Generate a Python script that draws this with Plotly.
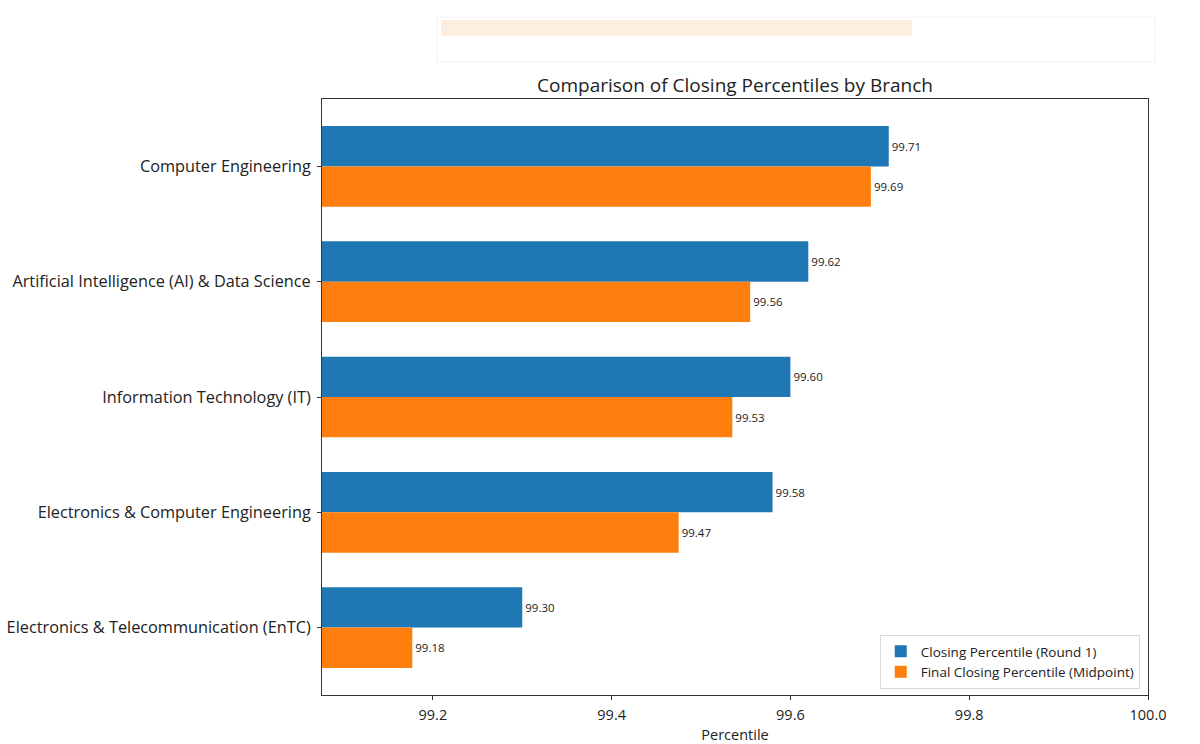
import plotly.graph_objects as go

branches = [
    "Computer Engineering",
    "Artificial Intelligence (AI) & Data Science",
    "Information Technology (IT)",
    "Electronics & Computer Engineering",
    "Electronics & Telecommunication (EnTC)",
]
round1 = [99.71, 99.62, 99.60, 99.58, 99.30]
final_mid = [99.69, 99.555, 99.535, 99.475, 99.177]
round1_labels = ["99.71", "99.62", "99.60", "99.58", "99.30"]
final_labels = ["99.69", "99.56", "99.53", "99.47", "99.18"]
x_ticks = [99.2, 99.4, 99.6, 99.8, 100.0]
x_tick_text = ["99.2", "99.4", "99.6", "99.8", "100.0"]

FONT = "Open Sans"
BLUE = "#1f77b4"
ORANGE = "#ff7f0e"

fig = go.Figure()
fig.add_trace(go.Bar(
    y=branches, x=round1, orientation="h", name="Closing Percentile (Round 1)",
    marker=dict(color=BLUE, line=dict(width=0)),
    text=round1_labels, textposition="outside", constraintext="none",
    textfont=dict(family=FONT, size=11.5, color="#222"), cliponaxis=False,
))
fig.add_trace(go.Bar(
    y=branches, x=final_mid, orientation="h", name="Final Closing Percentile (Midpoint)",
    marker=dict(color=ORANGE, line=dict(width=0)),
    text=final_labels, textposition="outside", constraintext="none",
    textfont=dict(family=FONT, size=11.5, color="#222"), cliponaxis=False,
))

fig.update_layout(
    width=1200, height=744,
    paper_bgcolor="white", plot_bgcolor="white",
    margin=dict(l=322, r=52, t=99, b=49, autoexpand=False),
    barmode="group", bargap=0.3, bargroupgap=0,
    font=dict(family=FONT, color="#222"),
    title=dict(text="Comparison of Closing Percentiles by Branch", x=0.5, xanchor="center",
               xref="paper", y=1 - 85 / 744, yanchor="middle",
               font=dict(family=FONT, size=19, color="#222")),
    showlegend=True,
    legend=dict(x=0.99, y=0.01, xanchor="right", yanchor="bottom",
                bgcolor="rgba(255,255,255,0.9)", bordercolor="#d8d8d8", borderwidth=1,
                font=dict(family=FONT, size=13.5, color="#222"), traceorder="normal",
                itemwidth=30, tracegroupgap=0),
    shapes=[
        dict(type="rect", xref="paper", yref="paper", layer="below",
             x0=(437 - 322) / 826, x1=(1155 - 322) / 826,
             y0=1 + (99 - 62) / 596, y1=1 + (99 - 17) / 596,
             line=dict(color="#f3f3f3", width=1), fillcolor="rgba(0,0,0,0)"),
        dict(type="rect", xref="paper", yref="paper", layer="below",
             x0=(441 - 322) / 826, x1=(912 - 322) / 826,
             y0=1 + (99 - 36) / 596, y1=1 + (99 - 20) / 596,
             line=dict(width=0), fillcolor="#fdeee2"),
    ],
)
fig.update_xaxes(
    range=[99.076, 100.0], tickvals=x_ticks, ticktext=x_tick_text,
    showgrid=False, zeroline=False, automargin=False,
    showline=True, linecolor="#333", linewidth=1, mirror=True,
    ticks="outside", ticklen=4, tickcolor="#333", ticklabelstandoff=3,
    tickfont=dict(family=FONT, size=14.5, color="#222"),
    title=dict(text="Percentile", font=dict(family=FONT, size=14.5, color="#222"), standoff=6),
)
fig.update_yaxes(
    autorange=False, range=[4.585, -0.585], automargin=False,
    showgrid=False, zeroline=False,
    showline=True, linecolor="#333", linewidth=1, mirror=True,
    ticks="outside", ticklen=4, tickcolor="#333", ticklabelstandoff=3,
    tickfont=dict(family=FONT, size=16.3, color="#222"),
)

fig.write_html("out.html")
